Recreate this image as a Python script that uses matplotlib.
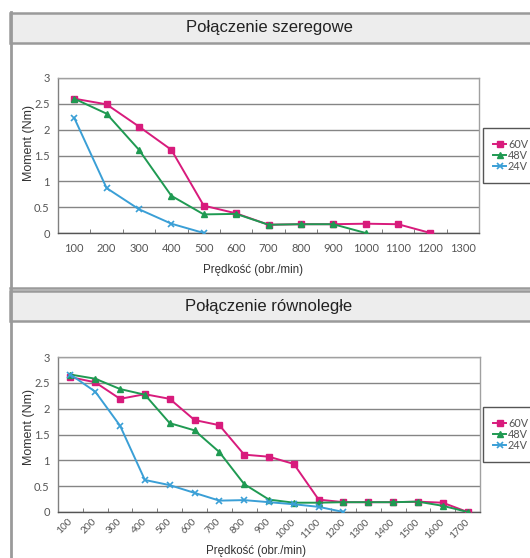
import matplotlib
matplotlib.use("Agg")
import matplotlib.pyplot as plt
import matplotlib.transforms as mtransforms
from matplotlib.patches import Rectangle
from matplotlib.lines import Line2D

# ---- data ----
series_names = ["60V", "48V", "24V"]
top_title = "Połączenie szeregowe"
bottom_title = "Połączenie równoległe"
x_label = "Prędkość (obr./min)"
y_label = "Moment (Nm)"

top_cats = ["100", "200", "300", "400", "500", "600", "700", "800", "900",
            "1000", "1100", "1200", "1300"]
top_60v = [2.60, 2.49, 2.06, 1.61, 0.53, 0.38, 0.16, 0.17, 0.17, 0.18, 0.17, 0.0]
top_48v = [2.60, 2.31, 1.61, 0.72, 0.36, 0.37, 0.16, 0.17, 0.17, 0.0]
top_24v = [2.23, 0.87, 0.46, 0.18, 0.0]

bot_cats = ["100", "200", "300", "400", "500", "600", "700", "800", "900",
            "1000", "1100", "1200", "1300", "1400", "1500", "1600", "1700"]
bot_60v = [2.61, 2.51, 2.19, 2.28, 2.19, 1.78, 1.68, 1.11, 1.07, 0.93, 0.24,
           0.19, 0.19, 0.19, 0.20, 0.18, 0.0]
bot_48v = [2.66, 2.58, 2.38, 2.27, 1.72, 1.58, 1.16, 0.54, 0.24, 0.18, 0.18,
           0.19, 0.19, 0.19, 0.20, 0.12, 0.0]
bot_24v = [2.66, 2.33, 1.67, 0.62, 0.52, 0.37, 0.22, 0.23, 0.19, 0.15, 0.10, 0.0]

colors = ["#d81b7c", "#1f9a52", "#3a9fd6"]
markers = ["s", "^", "x"]

W, H = 530, 558
fig = plt.figure(figsize=(W / 100, H / 100), dpi=100)
fig.patch.set_facecolor("white")

def fx(px):
    return px / W

def fy(py):
    return 1 - py / H

frame_col = "#9a9a9a"

# panel decorations
def header(y0, y1, text):
    fig.patches.append(Rectangle((fx(10), fy(y1)), fx(600), (y1 - y0) / H,
                                 transform=fig.transFigure, facecolor="#ededed",
                                 edgecolor=frame_col, linewidth=1.8, zorder=0))
    fig.text(fx(269), fy((y0 + y1) / 2), text, ha="center", va="center",
             fontsize=12, family="Liberation Sans", color="#222222")

header(12.5, 42.5, top_title)
fig.lines.append(Line2D([fx(10), 1.0], [fy(288), fy(288)], transform=fig.transFigure,
                        color=frame_col, linewidth=1.8))
header(291, 321, bottom_title)
fig.lines.append(Line2D([fx(10.5), fx(10.5)], [fy(12), 0], transform=fig.transFigure,
                        color=frame_col, linewidth=2.0))

def make_chart(top, bottom, left, right, cats, data, rotate, xlab_y, xlab_x, ylab_y):
    ax = fig.add_axes([fx(left), fy(bottom), (right - left) / W, (bottom - top) / H])
    n = len(cats)
    for name, vals, c, m in zip(series_names, data, colors, markers):
        xs = list(range(len(vals)))
        if m == "x":
            ax.plot(xs, vals, color=c, marker=m, markersize=5, markeredgewidth=1.2,
                    linewidth=1.4, label=name, zorder=3)
        else:
            ax.plot(xs, vals, color=c, marker=m, markersize=5, linewidth=1.4,
                    label=name, zorder=3)
    ax.set_xlim(-0.5, n - 0.5)
    ax.set_ylim(0, 3)
    ax.set_yticks([0, 0.5, 1, 1.5, 2, 2.5, 3])
    ax.set_yticklabels(["0", "0.5", "1", "1.5", "2", "2.5", "3"])
    ax.yaxis.grid(True, color="#858585", linewidth=1.0)
    ax.set_axisbelow(True)
    ax.set_xticks(range(n))
    if rotate:
        ax.set_xticklabels(cats, rotation=45, ha="right", va="center",
                           rotation_mode="anchor")
        offset = mtransforms.ScaledTranslation(5 / 100, 0, fig.dpi_scale_trans)
        for lab in ax.get_xticklabels():
            lab.set_transform(lab.get_transform() + offset)
    else:
        ax.set_xticklabels(cats)
    ax.set_xticks([i - 0.5 for i in range(n + 1)], minor=True)
    ax.tick_params(axis="x", which="major", length=0, pad=7 if not rotate else 6,
                   labelsize=8 if not rotate else 7.3, labelcolor="#555555")
    ax.tick_params(axis="x", which="minor", length=3, direction="in", color="#666666")
    ax.tick_params(axis="y", length=0, pad=6, labelsize=8, labelcolor="#555555")
    for lab in ax.get_xticklabels() + ax.get_yticklabels():
        lab.set_family("Lato")
    for s in ["top", "right"]:
        ax.spines[s].set_color("#a0a0a0")
        ax.spines[s].set_linewidth(1.0)
    ax.spines["left"].set_color("#808080")
    ax.spines["bottom"].set_color("#555555")
    ax.spines["left"].set_linewidth(1.0)
    ax.spines["bottom"].set_linewidth(1.0)
    fig.text(fx(xlab_x), fy(xlab_y), x_label, ha="center", va="center",
             fontsize=8.3, family="Liberation Sans", color="#333333")
    fig.text(fx(29), fy(ylab_y), y_label, ha="center", va="center", rotation=90,
             fontsize=9, family="Liberation Sans", color="#333333")
    leg = ax.legend(loc="center left", bbox_to_anchor=(fx(482.5), fy((top + bottom) / 2)),
                    bbox_transform=fig.transFigure, labelspacing=0.0,
                    handlelength=1.2, handletextpad=0.15, borderpad=1.0,
                    borderaxespad=0, fancybox=False, framealpha=1,
                    edgecolor="#555555", prop={"family": "Lato", "size": 7.8})
    for t in leg.get_texts():
        t.set_color("#555555")
    leg.get_frame().set_linewidth(1.0)
    for h in leg.legend_handles:
        h.set_markersize(4)
    return ax

make_chart(78, 233, 58, 479, top_cats, [top_60v, top_48v, top_24v], False, 270, 253, 143)
make_chart(357, 512, 58, 480, bot_cats, [bot_60v, bot_48v, bot_24v], True, 551, 256, 427)

fig.savefig("out.png", dpi=100, facecolor="white")
